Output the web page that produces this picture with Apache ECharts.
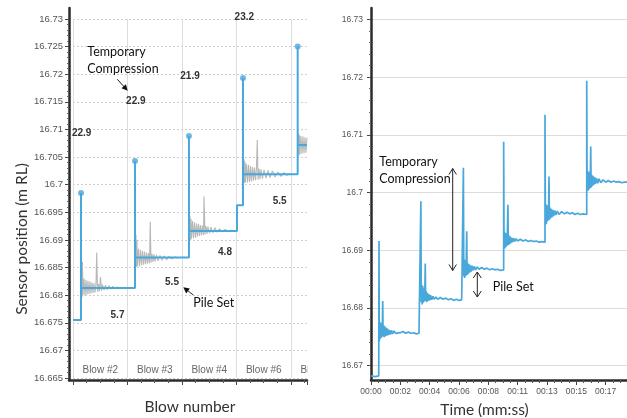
<!DOCTYPE html>
<html><head><meta charset="utf-8">
<script src="https://cdn.jsdelivr.net/npm/echarts@6/dist/echarts.min.js"></script>
<style>html,body{margin:0;padding:0;background:#fff}#c{width:627px;height:418px}</style>
</head><body><div id="c"></div>
<script>
// ================= DATA =================
// Left panel: blow-by-blow view (x in blow units, y in m RL)
const blowLabels = ['Blow #2', 'Blow #3', 'Blow #4', 'Blow #6', 'Blow #7'];
const stepPath = [[0,16.6755],[0.147,16.6755],[0.147,16.6985],[0.147,16.6813],[1.138,16.6813],[1.138,16.7043],[1.138,16.6868],[2.128,16.6868],[2.128,16.7088],[2.128,16.6916],[3.009,16.6916],[3.009,16.6963],[3.119,16.6963],[3.119,16.7193],[3.119,16.7019],[4.123,16.7019],[4.123,16.7250],[4.123,16.7072],[4.294,16.7072]];
const peakPoints = [[0.147,16.6985],[1.138,16.7043],[2.128,16.7088],[3.119,16.7193],[4.123,16.7250]];
const grayBlow2 = [[0.150,16.6810],[0.156,16.6875],[0.165,16.6796],[0.174,16.6860],[0.183,16.6800],[0.202,16.6830],[0.220,16.6799],[0.239,16.6828],[0.257,16.6801],[0.275,16.6826],[0.294,16.6802],[0.312,16.6825],[0.330,16.6803],[0.349,16.6823],[0.367,16.6804],[0.385,16.6822],[0.404,16.6805],[0.422,16.6820],[0.435,16.6877],[0.450,16.6806],[0.468,16.6820],[0.486,16.6807],[0.505,16.6833],[0.523,16.6808],[0.541,16.6819],[0.569,16.6809],[0.596,16.6818],[0.624,16.6810],[0.661,16.6817],[0.697,16.6811],[0.734,16.6816],[0.771,16.6812],[0.817,16.6815],[0.862,16.6812],[0.917,16.6814],[0.972,16.6813]];
const grayBlow3 = [[1.147,16.6866],[1.156,16.6909],[1.165,16.6851],[1.174,16.6900],[1.183,16.6853],[1.202,16.6884],[1.220,16.6852],[1.239,16.6882],[1.257,16.6854],[1.275,16.6880],[1.294,16.6855],[1.312,16.6879],[1.330,16.6856],[1.349,16.6877],[1.367,16.6857],[1.385,16.6876],[1.404,16.6858],[1.418,16.6933],[1.431,16.6859],[1.450,16.6875],[1.468,16.6860],[1.486,16.6874],[1.505,16.6861],[1.532,16.6873],[1.560,16.6862],[1.596,16.6872],[1.633,16.6863],[1.670,16.6871],[1.716,16.6864],[1.761,16.6870],[1.817,16.6866],[1.872,16.6869],[1.927,16.6867]];
const grayBlow4 = [[2.138,16.6918],[2.147,16.6943],[2.156,16.6900],[2.165,16.6938],[2.174,16.6902],[2.193,16.6934],[2.211,16.6903],[2.229,16.6932],[2.248,16.6904],[2.266,16.6930],[2.284,16.6906],[2.303,16.6929],[2.321,16.6907],[2.339,16.6927],[2.358,16.6908],[2.376,16.6926],[2.394,16.6909],[2.404,16.6979],[2.422,16.6910],[2.440,16.6925],[2.459,16.6911],[2.477,16.6924],[2.505,16.6912],[2.532,16.6923],[2.569,16.6913],[2.606,16.6922],[2.642,16.6914],[2.688,16.6920],[2.734,16.6915],[2.789,16.6919],[2.844,16.6916],[2.899,16.6918]];
const grayBlow6 = [[3.128,16.7020],[3.138,16.7046],[3.147,16.7003],[3.156,16.7042],[3.165,16.7004],[3.183,16.7038],[3.202,16.7004],[3.220,16.7036],[3.239,16.7005],[3.257,16.7034],[3.275,16.7006],[3.294,16.7032],[3.312,16.7007],[3.330,16.7031],[3.349,16.7008],[3.367,16.7030],[3.382,16.7081],[3.394,16.7009],[3.413,16.7029],[3.431,16.7010],[3.450,16.7028],[3.477,16.7011],[3.505,16.7027],[3.541,16.7012],[3.578,16.7026],[3.615,16.7013],[3.661,16.7025],[3.706,16.7014],[3.761,16.7023],[3.817,16.7015],[3.872,16.7022],[3.927,16.7017],[3.982,16.7020]];
const grayBlow7 = [[4.128,16.7072],[4.138,16.7094],[4.147,16.7053],[4.156,16.7090],[4.165,16.7055],[4.183,16.7088],[4.202,16.7056],[4.220,16.7087],[4.239,16.7057],[4.257,16.7086],[4.275,16.7058],[4.294,16.7085]];
const tempCompression = ['22.9', '22.9', '21.9', '23.2'];   // mm
const pileSet = ['5.7', '5.5', '4.8', '5.5'];               // mm

// Right panel: time trace (x in seconds, y in m RL)
const tracePre = [[0,16.6682],[0.3,16.6681],[0.58,16.6682]];
const traceBlow1 = [[0.60,16.6682],[0.60,16.6916],[0.62,16.6742],[0.65,16.6776],[0.68,16.6746],[0.72,16.6774],[0.76,16.6748],[0.80,16.6772],[0.84,16.6750],[0.88,16.6812],[0.91,16.6751],[0.95,16.6770],[0.99,16.6749],[1.03,16.6768],[1.08,16.6751],[1.13,16.6766],[1.18,16.6752],[1.24,16.6764],[1.30,16.6753],[1.37,16.6762],[1.45,16.6754],[1.53,16.6761],[1.62,16.6755],[1.72,16.6760],[1.85,16.6756],[2.0,16.6759],[2.2,16.6757],[2.4,16.6759],[2.6,16.6756],[2.8,16.6758],[3.0,16.6756],[3.2,16.6757],[3.4,16.6755],[3.6,16.6756],[3.74,16.6755]];
const traceBlow2 = [[3.74,16.6985],[3.77,16.6810],[3.80,16.6840],[3.84,16.6806],[3.88,16.6838],[3.92,16.6809],[3.96,16.6834],[4.00,16.6811],[4.04,16.6830],[4.07,16.6877],[4.10,16.6812],[4.14,16.6829],[4.18,16.6810],[4.23,16.6826],[4.28,16.6812],[4.34,16.6824],[4.40,16.6813],[4.47,16.6822],[4.55,16.6814],[4.64,16.6820],[4.74,16.6815],[4.86,16.6819],[5.0,16.6815],[5.2,16.6818],[5.4,16.6815],[5.6,16.6817],[5.8,16.6814],[6.0,16.6816],[6.2,16.6813],[6.4,16.6815],[6.6,16.6813],[6.8,16.6814],[6.93,16.6813]];
const traceBlow3 = [[6.93,16.7043],[6.96,16.6855],[6.99,16.6884],[7.02,16.6852],[7.06,16.6882],[7.10,16.6855],[7.14,16.6880],[7.18,16.6933],[7.21,16.6857],[7.25,16.6878],[7.29,16.6859],[7.34,16.6876],[7.39,16.6861],[7.45,16.6874],[7.51,16.6863],[7.58,16.6873],[7.66,16.6865],[7.75,16.6872],[7.85,16.6866],[7.97,16.6871],[8.1,16.6867],[8.3,16.6870],[8.5,16.6867],[8.7,16.6869],[8.9,16.6866],[9.1,16.6868],[9.3,16.6866],[9.5,16.6867],[9.7,16.6865],[9.95,16.6866]];
const traceBlow4 = [[9.95,16.7088],[9.98,16.6905],[10.01,16.6932],[10.05,16.6903],[10.09,16.6930],[10.13,16.6906],[10.17,16.6928],[10.21,16.6908],[10.27,16.6979],[10.30,16.6909],[10.33,16.6926],[10.37,16.6910],[10.42,16.6924],[10.47,16.6912],[10.53,16.6922],[10.60,16.6914],[10.68,16.6921],[10.77,16.6915],[10.87,16.6920],[11.0,16.6916],[11.2,16.6919],[11.4,16.6916],[11.6,16.6918],[11.8,16.6915],[12.0,16.6917],[12.2,16.6915],[12.4,16.6916],[12.6,16.6914],[12.8,16.6915],[13.05,16.6914]];
const traceBlow5 = [[13.05,16.7135],[13.08,16.6948],[13.11,16.6980],[13.15,16.6945],[13.19,16.6978],[13.23,16.6950],[13.27,16.6975],[13.31,16.6952],[13.35,16.7028],[13.38,16.6953],[13.42,16.6974],[13.46,16.6955],[13.51,16.6972],[13.57,16.6957],[13.63,16.6970],[13.70,16.6959],[13.78,16.6969],[13.87,16.6961],[13.97,16.6968],[14.1,16.6962],[14.3,16.6967],[14.5,16.6963],[14.7,16.6966],[14.9,16.6963],[15.1,16.6965],[15.3,16.6962],[15.5,16.6964],[15.7,16.6962],[15.9,16.6963],[16.18,16.6962]];
const traceBlow6 = [[16.18,16.7194],[16.21,16.7005],[16.24,16.7038],[16.28,16.7003],[16.32,16.7036],[16.36,16.7006],[16.40,16.7034],[16.44,16.7008],[16.48,16.7080],[16.51,16.7009],[16.55,16.7031],[16.59,16.7011],[16.64,16.7029],[16.70,16.7013],[16.76,16.7027],[16.83,16.7015],[16.91,16.7025],[17.0,16.7016],[17.1,16.7024],[17.23,16.7017],[17.4,16.7022],[17.6,16.7018],[17.8,16.7021],[18.0,16.7018],[18.2,16.7020],[18.4,16.7018],[18.6,16.7019],[18.8,16.7017],[19.0,16.7018],[19.2,16.7018]];

// ================= CHART =================
const BLUE = '#48a8dc', GRAY = '#b8b8b8', AXIS = '#2b2b2b', TICKTXT = '#555';
const TXTFONT = 'Lato, "Open Sans", sans-serif';
const NUMFONT = '"Liberation Sans", Arial, sans-serif';
const rightTrace = [].concat(tracePre, traceBlow1, traceBlow2, traceBlow3, traceBlow4, traceBlow5, traceBlow6);
const grays = [grayBlow2, grayBlow3, grayBlow4, grayBlow6, grayBlow7];

function mmss(v) { const s = Math.floor(v + 1e-6); return '00:' + String(s).padStart(2, '0'); }
function txt(x, y, text, opt, rot) {
  return { type: 'text', x: x, y: y, z: 50, rotation: rot || 0,
    style: Object.assign({ text: text, fontFamily: TXTFONT, fontSize: 12.5, fill: '#111', align: 'left', verticalAlign: 'middle' }, opt || {}) };
}
function num(x, y, text) {
  return { type: 'text', x: x, y: y, z: 50, style: { text: text, fontFamily: NUMFONT, fontSize: 10, fontWeight: 'bold', fill: '#333', align: 'center', verticalAlign: 'middle' } };
}
function pl(points, w) { return { type: 'polyline', z: 50, shape: { points: points }, style: { stroke: '#222', lineWidth: w || 1, fill: null } }; }
function tri(points) { return { type: 'polygon', z: 50, shape: { points: points }, style: { fill: '#111' } }; }

const option = {
  animation: false,
  backgroundColor: '#fff',
  grid: [
    { left: 73, right: 320, top: 19, bottom: 40 },   // 0 left labels/data
    { left: 69, right: 320, top: 8, bottom: 38 },    // 1 left axis lines
    { left: 371, right: 0, top: 19.5, bottom: 52.4 },// 2 right labels
    { left: 371, right: 0, top: 8, bottom: 38 }      // 3 right data/axis lines
  ],
  xAxis: [
    { gridIndex: 0, type: 'value', min: 0, max: 4.294, interval: 1, offset: 2,
      axisLine: { show: false, onZero: false },
      axisTick: { show: true, length: 5, lineStyle: { color: '#444' } },
      minorTick: { show: true, splitNumber: 4, length: 3, lineStyle: { color: '#555' } },
      splitLine: { show: true, showMaxLine: false, lineStyle: { color: '#dedede', width: 1 } },
      axisLabel: { inside: true, margin: 5, fontFamily: NUMFONT, fontSize: 10, color: '#666', align: 'center', padding: [0, 0, 0, 54.5], showMaxLabel: false,
        formatter: v => (Math.abs(v - Math.round(v)) < 1e-6 ? (blowLabels[Math.round(v)] || '') : '') } },
    { gridIndex: 1, type: 'value', min: 0, max: 1, axisLine: { show: true, onZero: false, lineStyle: { color: AXIS, width: 2.5 } }, axisTick: { show: false }, axisLabel: { show: false }, splitLine: { show: false } },
    { gridIndex: 2, type: 'value', min: 0, max: 19.2, show: false },
    { gridIndex: 3, type: 'value', min: 0, max: 19.2, interval: 2.2,
      axisLine: { show: true, onZero: false, lineStyle: { color: AXIS, width: 2.5 } },
      axisTick: { show: true, length: 5, lineStyle: { color: '#444' } },
      minorTick: { show: true, splitNumber: 4, length: 3, lineStyle: { color: '#555' } },
      splitLine: { show: false },
      axisLabel: { margin: 7, fontFamily: NUMFONT, fontSize: 8.5, color: TICKTXT, showMaxLabel: false, formatter: mmss } }
  ],
  yAxis: [
    { gridIndex: 0, type: 'value', min: 16.665, max: 16.73, interval: 0.005, offset: 4,
      axisLine: { show: false, onZero: false },
      axisTick: { show: true, length: 4, lineStyle: { color: '#444' } },
      minorTick: { show: true, splitNumber: 5, length: 2, lineStyle: { color: '#666' } },
      splitLine: { show: true, lineStyle: { color: '#cfcfcf', type: [2, 2] } },
      axisLabel: { margin: 6, fontFamily: NUMFONT, fontSize: 9.5, color: TICKTXT, formatter: v => String(+v.toFixed(3)) } },
    { gridIndex: 1, type: 'value', min: 0, max: 1, axisLine: { show: true, onZero: false, lineStyle: { color: AXIS, width: 2.5 } }, axisTick: { show: false }, axisLabel: { show: false }, splitLine: { show: false } },
    { gridIndex: 2, type: 'value', min: 16.67, max: 16.73, interval: 0.01,
      axisLine: { show: false, onZero: false },
      axisTick: { show: true, length: 4, lineStyle: { color: '#444' } },
      minorTick: { show: true, splitNumber: 5, length: 2, lineStyle: { color: '#666' } },
      splitLine: { show: true, lineStyle: { color: '#dcdcdc', width: 1 } },
      axisLabel: { margin: 8, fontFamily: NUMFONT, fontSize: 8.5, color: TICKTXT, formatter: v => String(+v.toFixed(3)) } },
    { gridIndex: 3, type: 'value', min: 16.6675, max: 16.732,
      axisLine: { show: true, onZero: false, lineStyle: { color: AXIS, width: 2.5 } }, axisTick: { show: false }, axisLabel: { show: false }, splitLine: { show: false } }
  ],
  series: [].concat(
    grays.map(g => ({ type: 'line', xAxisIndex: 0, yAxisIndex: 0, data: g, showSymbol: false, symbol: 'none', lineStyle: { color: GRAY, width: 1.1 }, z: 2 })),
    [
      { type: 'line', xAxisIndex: 0, yAxisIndex: 0, data: stepPath, symbol: 'none', lineStyle: { color: BLUE, width: 2 }, z: 3 },
      { type: 'scatter', xAxisIndex: 0, yAxisIndex: 0, data: peakPoints, symbol: 'circle', symbolSize: 6, itemStyle: { color: BLUE }, z: 4 },
      { type: 'line', xAxisIndex: 3, yAxisIndex: 3, data: rightTrace, symbol: 'none', lineStyle: { color: BLUE, width: 1.7 }, z: 3 }
    ]
  ),
  graphic: [
    { type: 'rect', z: 100, shape: { x: 307.5, y: 356, width: 32, height: 22 }, style: { fill: '#fff' } },
    // axis titles
    txt(22, 239, 'Sensor position (m RL)', { fontSize: 15.5, fill: '#333', align: 'center' }, Math.PI / 2),
    txt(190, 406.5, 'Blow number', { fontSize: 15.5, fill: '#333', align: 'center' }),
    txt(484.5, 410, 'Time (mm:ss)', { fontSize: 15.5, fill: '#333', align: 'center' }),
    // left annotations
    txt(87.3, 51.7, 'Temporary'), txt(87.3, 69, 'Compression'),
    pl([[117.3, 79.3], [124.5, 87.2]], 1), tri([[127.7, 90.7], [121.5, 88.3], [125.9, 84.3]]),
    txt(193.3, 303.3, 'Pile Set'),
    pl([[193.3, 295], [187.5, 290.5]], 1), tri([[183.3, 287.3], [189.8, 288.6], [186.2, 293.4]]),
    num(81.7, 133.3, tempCompression[0]), num(135.8, 101.7, tempCompression[1]), num(190, 76, tempCompression[2]), num(244.3, 17.7, tempCompression[3]),
    num(117.5, 315, pileSet[0]), num(172, 282.3, pileSet[1]), num(225, 252.7, pileSet[2]), num(279.7, 201, pileSet[3]),
    // right annotations
    txt(379.3, 162.3, 'Temporary'), txt(379.3, 179, 'Compression'),
    pl([[452.7, 168.5], [452.7, 270.5]], 1), pl([[449, 174.5], [452.7, 168.5], [456.4, 174.5]], 1), pl([[449, 264.5], [452.7, 270.5], [456.4, 264.5]], 1),
    txt(492.7, 286.7, 'Pile Set'),
    pl([[477.3, 272], [477.3, 297]], 1), pl([[473.3, 278], [477.3, 272], [481.3, 278]], 1), pl([[473.3, 291], [477.3, 297], [481.3, 291]], 1)
  ]
};
const chart = echarts.init(document.getElementById('c'), null, { renderer: 'canvas' });
chart.setOption(option);
</script></body></html>
